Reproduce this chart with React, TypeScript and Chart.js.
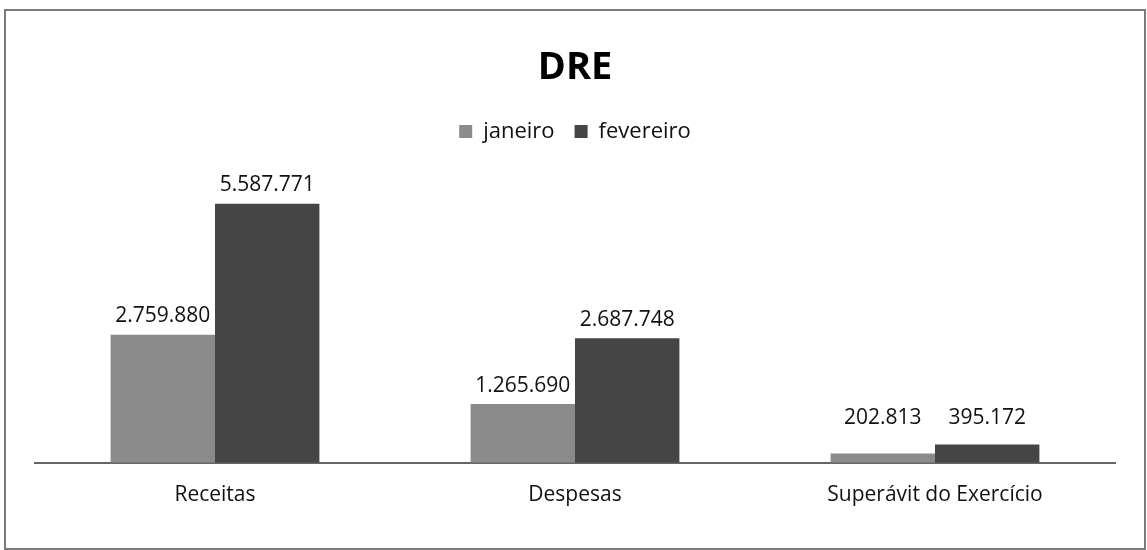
import React, { useEffect, useRef } from "react";
import { Chart, registerables } from "chart.js";

Chart.register(...registerables);

const categories = ["Receitas", "Despesas", "Superávit do Exercício"];
const janeiro = [2759880, 1265690, 202813];
const fevereiro = [5587771, 2687748, 395172];
const seriesNames = ["janeiro", "fevereiro"];
const titleText = "DRE";

const FONT = "'Open Sans', 'DejaVu Sans', sans-serif";

function fmt(v: number): string {
  return v.toString().replace(/\B(?=(\d{3})+(?!\d))/g, ".");
}

const framePlugin = {
  id: "frame",
  beforeDraw(chart: any) {
    const ctx = chart.ctx;
    ctx.save();
    ctx.fillStyle = "#ffffff";
    ctx.fillRect(0, 0, chart.width, chart.height);
    ctx.strokeStyle = "#7a7a7a";
    ctx.lineWidth = 2;
    ctx.strokeRect(5, 10, chart.width - 7, chart.height - 11);
    ctx.restore();
  },
};

const labelPlugin = {
  id: "valueLabels",
  afterDatasetsDraw(chart: any) {
    const ctx = chart.ctx;
    const base = chart.chartArea.bottom;
    ctx.save();
    ctx.font = `21px ${FONT}`;
    ctx.fillStyle = "#111";
    ctx.textAlign = "center";
    ctx.textBaseline = "bottom";
    chart.data.datasets.forEach((ds: any, di: number) => {
      const meta = chart.getDatasetMeta(di);
      meta.data.forEach((bar: any, i: number) => {
        const y = Math.min(bar.y - 8, base - 34);
        ctx.fillText(fmt(ds.data[i]), bar.x, y);
      });
    });
    ctx.restore();
  },
};

export default function App() {
  const ref = useRef<HTMLCanvasElement>(null);
  useEffect(() => {
    document.body.style.margin = "0";
    const chart = new Chart(ref.current!, {
      type: "bar",
      data: {
        labels: categories,
        datasets: [
          { label: seriesNames[0], data: janeiro, backgroundColor: "#8b8b8b" },
          { label: seriesNames[1], data: fevereiro, backgroundColor: "#454545" },
        ],
      },
      options: {
        animation: false,
        responsive: false,
        maintainAspectRatio: false,
        layout: { padding: { left: 35, right: 32, top: 20, bottom: 22 } },
        datasets: { bar: { categoryPercentage: 0.58, barPercentage: 1 } },
        plugins: {
          title: {
            display: true,
            text: titleText,
            color: "#000",
            font: { family: FONT, size: 38, weight: "bold" },
            padding: { top: 25, bottom: 10 },
          },
          legend: {
            display: true,
            position: "top",
            labels: {
              color: "#111",
              font: { family: FONT, size: 22 },
              boxWidth: 13,
              boxHeight: 13,
              padding: 20,
            },
          },
          tooltip: { enabled: false },
        },
        scales: {
          x: {
            grid: { display: false, drawTicks: false },
            border: { display: true, color: "#666", width: 2 },
            ticks: { color: "#111", font: { family: FONT, size: 21 }, padding: 20 },
          },
          y: { display: false, min: 0, max: 6690000 },
        },
      },
      plugins: [framePlugin, labelPlugin],
    });
    return () => chart.destroy();
  }, []);
  return <canvas ref={ref} width={1147} height={550} style={{ display: "block" }} />;
}
